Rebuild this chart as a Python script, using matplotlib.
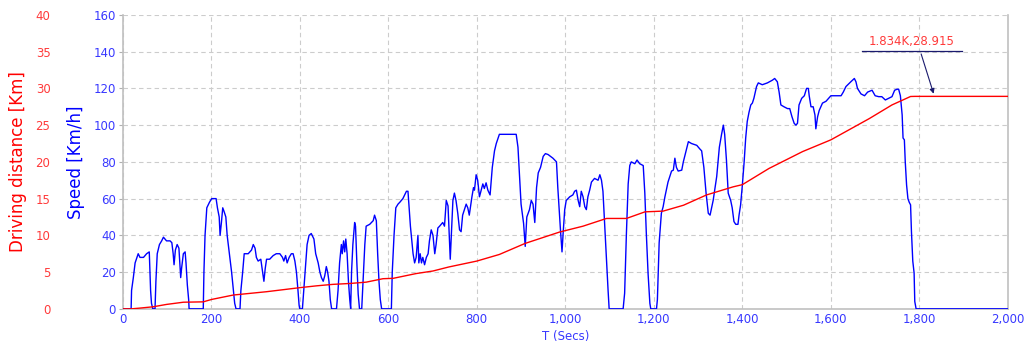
import numpy as np
import matplotlib
matplotlib.use('Agg')
import matplotlib.pyplot as plt

# --- speed trace ---
t_speed = [0, 19, 20, 24, 28, 35, 39, 47, 54, 60, 63, 65, 68, 73,
           75, 78, 83, 88, 92, 99, 107, 111, 114, 116, 119, 123, 127, 131, 133, 137, 141, 143, 146, 149, 150, 174, 182,
           183.5, 186, 190, 196, 201, 211, 214, 218, 220, 223, 226, 229, 233, 236, 241, 246, 250, 253, 256, 265,
           267, 271, 274.5, 283.5, 291, 295, 299, 302, 306, 312, 316, 319, 322, 325, 332, 340, 347, 355, 361, 364,
           368, 371.5, 376, 381, 385, 389, 392.5, 396, 398.5, 400, 406,
           409, 413.6, 416.6, 421, 426, 432, 436, 441.6, 445.5, 449, 453, 456.5, 460, 463, 466, 469, 472, 483,
           486.5, 490, 494, 496, 499, 501.6, 504, 507, 510, 513, 515, 517, 520, 524, 526, 529, 532, 535, 540, 543,
           547, 550, 558, 562, 566, 569, 573, 576, 579, 582, 585, 607,
           609, 613, 617, 622, 626, 633, 637, 641, 644.5, 647, 650, 652, 656, 659.5, 663, 667, 669, 672, 675, 678,
           682, 686, 690, 693, 697, 701, 705, 708, 712, 716, 723, 727, 731, 735, 740, 746, 749.4, 753, 757, 761,
           764.5, 768, 776, 779.6, 783, 789, 792.5, 794.7, 798.5, 802, 806, 810, 813.6, 817, 821, 825, 830, 835,
           840, 844, 851, 866, 889, 893, 897, 900, 905.7, 909.4, 913, 919, 923, 927, 931, 935, 938.8, 944, 950,
           955, 961, 972, 980, 983, 986, 989, 992.5, 995, 998.6, 1002, 1010, 1017, 1021, 1025, 1029, 1032.5, 1036,
           1040, 1044, 1047.5, 1051, 1055, 1059, 1066, 1074, 1078, 1081.7, 1085, 1089, 1093, 1096.6, 1099, 1130.6,
           1134, 1138, 1142, 1145.6, 1149, 1157, 1162, 1168, 1176, 1179.6, 1183, 1187, 1191, 1193, 1206, 1208,
           1212, 1217, 1221, 1225, 1232, 1240, 1244, 1247.5, 1251, 1255, 1263, 1266.6, 1272.7, 1278, 1285, 1297,
           1304, 1308, 1313, 1318, 1323, 1327, 1334, 1342, 1348, 1353, 1357, 1360, 1364, 1368, 1373.6, 1377,
           1381, 1385, 1390, 1392.5, 1396, 1400, 1404, 1407.5, 1411, 1415, 1419, 1422.6, 1426, 1432, 1436, 1445,
           1456.6, 1468, 1473, 1479, 1483, 1487, 1494, 1502, 1507, 1512, 1517, 1521, 1524.5, 1528, 1534, 1540,
           1545, 1549, 1551, 1555, 1560, 1564, 1566, 1570, 1573.6, 1581, 1589, 1600, 1611, 1623, 1628, 1634,
           1645, 1653, 1656.6, 1660, 1668, 1676, 1683, 1693, 1700, 1708, 1715, 1723, 1730.6, 1738, 1744, 1749,
           1753, 1757, 1761, 1763, 1766, 1768, 1771, 1774, 1777, 1780, 1782, 1785, 1788, 1789.5, 1792.5, 2000]
speed_kmh = [0, 0, 10, 17, 25, 30, 28, 28, 30, 31, 10, 3, 0, 0,
             15, 30, 35, 37, 39, 37, 37, 36, 30, 24, 32, 35, 33, 17, 22, 30, 31, 25, 13, 5, 0, 0, 0,
             20, 40, 55, 58, 60, 60, 55, 50, 40, 47, 55, 53, 50, 40, 30, 20, 10, 3, 0, 0,
             10, 20, 30, 30, 32, 35, 33, 28, 26, 27, 20, 15, 22, 27, 27, 29, 30, 30, 28, 26,
             29, 25, 28, 30, 30, 26, 20, 10, 2, 0, 0,
             10, 25, 35, 40, 41, 38, 30, 25, 20, 17, 15, 18, 23, 20, 15, 5, 0, 0,
             10, 25, 35, 30, 37, 31, 38, 30, 15, 5, 0, 20, 35, 47, 45, 25, 8, 0, 0, 15,
             35, 45, 46, 47, 48, 51, 48, 30, 15, 5, 0, 0,
             20, 40, 55, 57, 58, 60, 62, 64, 64, 55, 45, 40, 30, 25, 28, 40, 25, 30, 25, 28,
             24, 28, 30, 37, 43, 40, 30, 35, 44, 45, 47, 45, 59, 56, 27, 59, 63, 59, 52, 43,
             42, 51, 57, 55, 51, 61, 66, 64.6, 73, 70, 61, 64.6, 68, 65.5, 68.6, 64.6, 62, 77,
             86, 90, 95, 95, 95, 88, 70, 57, 46.5, 34, 50, 54, 59, 57, 47, 66, 74, 77, 83,
             84.5, 84, 82, 80, 66, 54, 43, 31, 41, 54, 59, 61, 62, 64, 64.6, 59, 55.6, 64,
             61, 55.6, 54, 61, 64.6, 69, 71, 70, 73, 70, 64, 45, 25, 10, 0, 0,
             8.5, 41, 68, 78, 80, 79, 81, 79, 78, 63, 41, 19, 3, 0, 0, 5,
             36, 52, 55.6, 61, 69, 75, 75.5, 82, 77, 75, 75.5, 80, 86, 91, 90, 89,
             87, 86, 77, 63, 52, 51, 59, 72, 88, 95, 100, 95, 81, 63, 59, 55,
             47.5, 46, 46, 51, 56.6, 67.5, 80, 93, 102, 107, 111, 112, 114.6, 121, 123, 122,
             123, 124.5, 125.4, 123.6, 118, 111, 110, 109, 109, 104.6, 101, 100, 101, 111, 114.6, 116,
             120, 120, 116, 110, 110, 105.5, 98, 104.6, 108, 112, 113, 116, 116, 116, 118, 121,
             123.6, 125.4, 123.6, 120, 117, 116, 118, 119, 116, 115.5, 115.5, 113.7, 114.6, 115.5, 119, 119.5,
             119.6, 116, 105.5, 93, 92, 80, 67.4, 60, 58, 56.6, 42, 26, 19.5, 4, 0, 0]

# --- driving distance trace (km) ---
t_dist = [0, 20, 39, 69, 99, 137, 182, 201, 250, 287, 325, 362, 400, 438, 475, 513, 550, 588, 611, 663,
          701, 737, 800, 851, 909, 987, 1040, 1093, 1138, 1180, 1221, 1267, 1319, 1379, 1400, 1460, 1536,
          1600, 1687, 1738, 1780, 1790, 2000]
dist_km = [0, 0, 0.1, 0.28, 0.6, 0.9, 0.95, 1.28, 1.88, 2.1, 2.33, 2.6, 2.88, 3.13, 3.33, 3.45, 3.63, 4.1,
           4.15, 4.8, 5.15, 5.7, 6.5, 7.4, 8.9, 10.45, 11.25, 12.3, 12.3, 13.2, 13.3, 14.1, 15.5, 16.6, 16.9,
           19.1, 21.4, 23.0, 25.9, 27.75, 28.9, 28.915, 28.915]

BLUE = '#0000ff'
RED = '#ff0000'
BLUE_TXT = '#3838ff'
RED_TXT = '#ff3a3a'

fig = plt.figure(figsize=(10.26, 3.47), dpi=100)
ax = fig.add_axes([0.1196, 0.110, 0.8628, 0.847])

ax.plot(t_speed, speed_kmh, color=BLUE, lw=1.0, zorder=3)
ax.set_xlim(0, 2000)
ax.set_ylim(0, 160)
ax.set_xticks(range(0, 2001, 200))
ax.set_xticklabels([f'{v:,}' for v in range(0, 2001, 200)])
ax.set_yticks(range(0, 161, 20))
ax.grid(True, color='#cccccc', linestyle=(0, (4, 3)), lw=0.8)
ax.tick_params(axis='both', colors='#b0b0b0', labelcolor=BLUE_TXT, labelsize=8.5, length=3, pad=2)
ax.tick_params(axis='x', length=0, pad=3)
for side in ['left', 'bottom', 'right']:
    ax.spines[side].set_color('#c0c0c0')
    ax.spines[side].set_linewidth(1.2)
ax.spines['top'].set_visible(False)
ax.set_ylabel('Speed [Km/h]', color=BLUE, fontsize=12, labelpad=6)
ax.set_xlabel('T (Secs)', color=BLUE_TXT, fontsize=8.5, labelpad=3)

# distance axis sharing the left side
ax2 = ax.twinx()
ax2.plot(t_dist, dist_km, color=RED, lw=1.0, zorder=4)
ax2.set_ylim(0, 40)
ax2.set_yticks(range(0, 41, 5))
ax2.yaxis.tick_left()
ax2.yaxis.set_label_position('left')
ax2.spines['left'].set_position(('outward', 52))
ax2.spines['left'].set_visible(False)
for side in ['right', 'top', 'bottom']:
    ax2.spines[side].set_visible(False)
ax2.tick_params(axis='y', length=0, pad=0, labelcolor=RED_TXT, labelsize=8.5)
ax2.set_ylabel('Driving distance [Km]', color=RED, fontsize=12, labelpad=6)

# cursor readout
ax2.plot([1670, 1897], [35.05, 35.05], color='#1a1a6e', lw=0.9, clip_on=False)
ax2.annotate('', xy=(1834, 28.915), xytext=(1802, 35.05),
             arrowprops=dict(arrowstyle='-|>', color='#1a1a6e', lw=0.8, mutation_scale=7))
ax2.text(1783, 35.5, '1.834K,28.915', color=RED_TXT, fontsize=8.5, ha='center', va='bottom')

fig.savefig('out.png', dpi=100)
